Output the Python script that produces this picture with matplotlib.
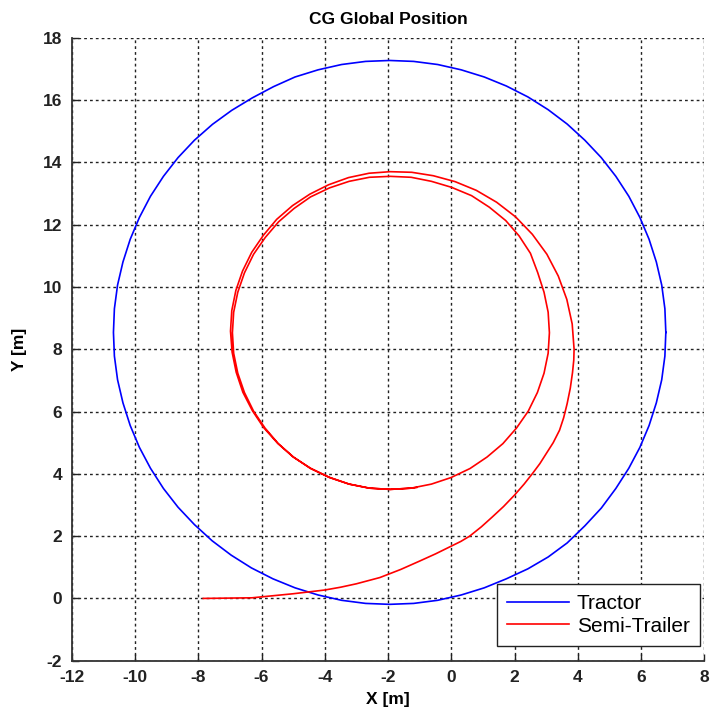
import matplotlib
matplotlib.use("Agg")
from matplotlib import pyplot as plt

plt.rcParams['font.family'] = ['Liberation Sans', 'DejaVu Sans']
plt.rcParams['axes.unicode_minus'] = False

# tractor CG path
tractor_x = [6.78, 6.75, 6.65, 6.48, 6.25, 5.96, 5.61, 5.20, 4.74, 4.22,
             3.66, 3.06, 2.42, 1.74, 1.04, 0.31, -0.43, -1.19, -1.95, -2.71,
             -3.47, -4.21, -4.94, -5.62, -6.29, -6.94, -7.55, -8.12, -8.64, -9.10,
             -9.51, -9.86, -10.15, -10.38, -10.55, -10.65, -10.68, -10.65, -10.55, -10.38,
             -10.15, -9.86, -9.51, -9.10, -8.64, -8.12, -7.56, -6.96, -6.32, -5.64,
             -4.94, -4.21, -3.47, -2.71, -1.95, -1.19, -0.43, 0.31, 1.04, 1.74,
             2.42, 3.06, 3.66, 4.22, 4.74, 5.20, 5.61, 5.96, 6.25, 6.48,
             6.65, 6.75, 6.78]
tractor_y = [8.54, 9.30, 10.06, 10.80, 11.53, 12.23, 12.91, 13.55, 14.15, 14.71,
             15.23, 15.69, 16.10, 16.45, 16.74, 16.97, 17.14, 17.24, 17.27, 17.24,
             17.14, 16.97, 16.74, 16.43, 16.07, 15.67, 15.22, 14.71, 14.15, 13.55,
             12.91, 12.23, 11.53, 10.80, 10.06, 9.30, 8.54, 7.78, 7.02, 6.28,
             5.55, 4.85, 4.18, 3.53, 2.93, 2.37, 1.85, 1.39, 0.98, 0.63,
             0.34, 0.11, -0.06, -0.16, -0.19, -0.16, -0.06, 0.11, 0.34, 0.63,
             0.95, 1.33, 1.78, 2.33, 2.90, 3.53, 4.18, 4.85, 5.55, 6.28,
             7.02, 7.78, 8.54]

# semi-trailer CG path: straight start, wide first turn, then two tighter loops
trailer_x = [-7.84, -6.30, -5.70, -5.00, -4.50, -4.00, -3.50, -3.00, -2.26, -1.60,
             -1.00, -0.50, 0.00, 0.30, 0.58, 0.95, 1.30, 1.65, 2.00, 2.30,
             2.58, 2.80, 3.00, 3.22, 3.42, 3.55, 3.66, 3.76, 3.83, 3.87,
             3.88,
             3.82, 3.65, 3.38, 3.02, 2.56, 2.03, 1.43, 0.79, 0.12, -0.57,
             -1.25, -1.93,
             -2.60, -3.25, -3.88, -4.47, -5.02, -5.52, -5.94, -6.31, -6.60, -6.81,
             -6.94, -6.98, -6.93, -6.80, -6.59, -6.29, -5.93, -5.49, -5.00, -4.45,
             -3.86, -3.23, -2.59, -1.93,
             -1.27, -0.63, -0.01, 0.59, 1.13, 1.63, 2.06, 2.43, 2.72, 2.93,
             3.06, 3.10,
             3.06, 2.93, 2.73, 2.50, 2.14, 1.72, 1.20, 0.64, 0.00, -0.63,
             -1.27, -1.93,
             -2.59, -3.23, -3.85, -4.45, -4.97, -5.46, -5.88, -6.25, -6.54, -6.75,
             -6.88, -6.92, -6.88, -6.75, -6.54, -6.25, -5.89, -5.47, -4.99, -4.45,
             -3.85, -3.23, -2.59, -1.93,
             -1.27, -1.10]
trailer_y = [0.00, 0.02, 0.08, 0.15, 0.21, 0.27, 0.36, 0.47, 0.67, 0.93,
             1.20, 1.43, 1.68, 1.83, 2.00, 2.30, 2.62, 2.95, 3.32, 3.67,
             4.03, 4.33, 4.65, 5.00, 5.40, 5.80, 6.25, 6.75, 7.25, 7.65,
             8.00,
             8.81, 9.60, 10.35, 11.05, 11.69, 12.25, 12.72, 13.10, 13.38, 13.57,
             13.68, 13.70,
             13.65, 13.51, 13.28, 12.98, 12.61, 12.17, 11.66, 11.11, 10.51, 9.89,
             9.24, 8.58, 7.91, 7.26, 6.62, 6.03, 5.48, 4.98, 4.54, 4.18,
             3.89, 3.67, 3.54, 3.50,
             3.54, 3.67, 3.88, 4.17, 4.54, 4.97, 5.47, 6.01, 6.61, 7.23,
             7.87, 8.53,
             9.19, 9.83, 10.46, 11.08, 11.64, 12.13, 12.56, 12.93, 13.20, 13.39,
             13.52, 13.55,
             13.52, 13.39, 13.18, 12.89, 12.52, 12.09, 11.59, 11.05, 10.45, 9.83,
             9.19, 8.53, 7.87, 7.23, 6.61, 6.01, 5.47, 4.97, 4.54, 4.17,
             3.88, 3.67, 3.54, 3.50,
             3.54, 3.56]

x_ticks = list(range(-12, 9, 2))
y_ticks = list(range(-2, 19, 2))

fig = plt.figure(figsize=(7.14, 7.16), dpi=100)
ax = fig.add_axes([0.1004, 0.0772, 0.8862, 0.8701])

ax.plot(tractor_x, tractor_y, color='#0000ff', lw=1.2, label='Tractor')
ax.plot(trailer_x, trailer_y, color='#ff0000', lw=1.2, label='Semi-Trailer')

ax.set_xlim(-12, 8)
ax.set_ylim(-2, 18)
ax.set_xticks(x_ticks)
ax.set_yticks(y_ticks)
ax.grid(True, color='#222222', linestyle=(0, (2, 2.2)), linewidth=1.0)
ax.set_axisbelow(True)

for s in ['top', 'right']:
    ax.spines[s].set_visible(False)
for s in ['left', 'bottom']:
    ax.spines[s].set_color('#333333')
    ax.spines[s].set_linewidth(1.3)

ax.tick_params(direction='in', length=5, width=1, colors='#222222',
               labelsize=12.5, pad=7)
for lab in ax.get_xticklabels() + ax.get_yticklabels():
    lab.set_fontweight('bold')

ax.set_title('CG Global Position', fontsize=12.5, fontweight='bold', pad=10)
ax.set_xlabel('X [m]', fontsize=12.5, fontweight='bold')
ax.set_ylabel('Y [m]', fontsize=12.5, fontweight='bold')
ax.xaxis.set_label_coords(0.5, -0.063)
ax.yaxis.set_label_coords(-0.082, 0.5)
ax.xaxis.label.set_va('center')
ax.yaxis.label.set_va('center')

leg = ax.legend(loc='lower right', bbox_to_anchor=(0.993, 0.0236),
                fontsize=15, borderaxespad=0, borderpad=0.5,
                handlelength=3.0, handletextpad=0.35, labelspacing=0.15,
                fancybox=False, framealpha=1)
leg.get_frame().set_edgecolor('#222222')
leg.get_frame().set_linewidth(1.0)

fig.savefig('out.png', dpi=100)
